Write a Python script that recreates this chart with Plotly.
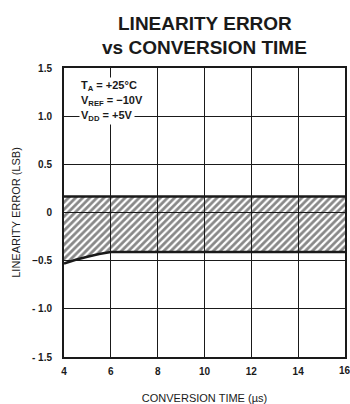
import plotly.graph_objects as go

# Conversion time (µs) and the bounds of the linearity-error band (LSB)
time_us = [4, 4.5, 5, 5.5, 6, 8, 10, 12, 14, 16]
upper_lsb = [0.165, 0.165, 0.165, 0.165, 0.165, 0.165, 0.165, 0.165, 0.165, 0.165]
lower_lsb = [-0.53, -0.49, -0.46, -0.43, -0.41, -0.41, -0.41, -0.41, -0.41, -0.41]

x_ticks = [4, 6, 8, 10, 12, 14]
y_ticks = [-1.5, -1.0, -0.5, 0, 0.5, 1.0, 1.5]
y_tick_text = ["- 1.5", "- 1.0", "−0.5", "0", "0.5", "1.0", "1.5"]

FONT = "Liberation Sans, Arial, sans-serif"
INK = "#1a1a1a"

fig = go.Figure()
fig.add_trace(go.Scatter(
    x=time_us, y=upper_lsb, mode="lines",
    line=dict(color=INK, width=2.5), hoverinfo="skip",
))
fig.add_trace(go.Scatter(
    x=time_us, y=lower_lsb, mode="lines",
    line=dict(color=INK, width=2.5),
    fill="tonexty", fillcolor="rgba(255,255,255,0)",
    fillpattern=dict(shape="/", size=5, solidity=0.55, fgcolor="#111",
                     bgcolor="rgba(255,255,255,0)"),
    hoverinfo="skip",
))

tick_font = dict(size=10, color=INK, weight="bold")
title_font = dict(size=11, color=INK)

fig.update_layout(
    width=350, height=404,
    margin=dict(l=64, r=5, t=68, b=47),
    paper_bgcolor="white", plot_bgcolor="white",
    showlegend=False,
    font=dict(family=FONT, color=INK),
    xaxis=dict(
        range=[4, 16], tickvals=x_ticks, ticktext=[str(v) for v in x_ticks],
        showgrid=True, gridcolor=INK, gridwidth=1.4,
        showline=True, linecolor=INK, linewidth=2, mirror=True,
        zeroline=False, ticks="", tickfont=tick_font, ticklabelstandoff=4,
        title=dict(text="CONVERSION TIME (µs)", font=title_font, standoff=26),
        automargin=False, layer="below traces",
    ),
    yaxis=dict(
        range=[-1.5, 1.5], tickvals=y_ticks, ticktext=y_tick_text,
        showgrid=True, gridcolor=INK, gridwidth=1.4,
        showline=True, linecolor=INK, linewidth=2, mirror=True,
        zeroline=False, ticks="", tickfont=tick_font, ticklabelstandoff=8,
        title=dict(text="LINEARITY ERROR (LSB)", font=title_font, standoff=9),
        automargin=False, layer="below traces",
    ),
)

# Last x tick label sits at the plot's right edge
fig.add_annotation(
    text="16", x=16, y=0, xref="x", yref="paper", yshift=-13,
    showarrow=False, xanchor="center", yanchor="middle", font=tick_font,
)

# Title (two lines)
fig.add_annotation(
    text="LINEARITY ERROR", xref="paper", yref="paper",
    x=0.5, y=1, yshift=45, showarrow=False, xanchor="center", yanchor="middle",
    font=dict(size=19, family=FONT, color=INK, weight="bold"),
)
fig.add_annotation(
    text="vs CONVERSION TIME", xref="paper", yref="paper",
    x=0.5, y=1, yshift=21, showarrow=False, xanchor="center", yanchor="middle",
    font=dict(size=19, family=FONT, color=INK, weight="bold"),
)

# Test conditions
conditions = ["T<sub>A</sub> = +25°C", "V<sub>REF</sub> = −10V", "V<sub>DD</sub> = +5V"]
cond_y = [1.31, 1.155, 1.0]
for txt, yv in zip(conditions, cond_y):
    fig.add_annotation(
        text=txt, x=4.65, y=yv, xref="x", yref="y",
        showarrow=False, xanchor="left", yanchor="middle",
        bgcolor="white", borderpad=1,
        font=dict(size=11, family=FONT, color=INK, weight="bold"),
    )

fig.write_html("out.html")
